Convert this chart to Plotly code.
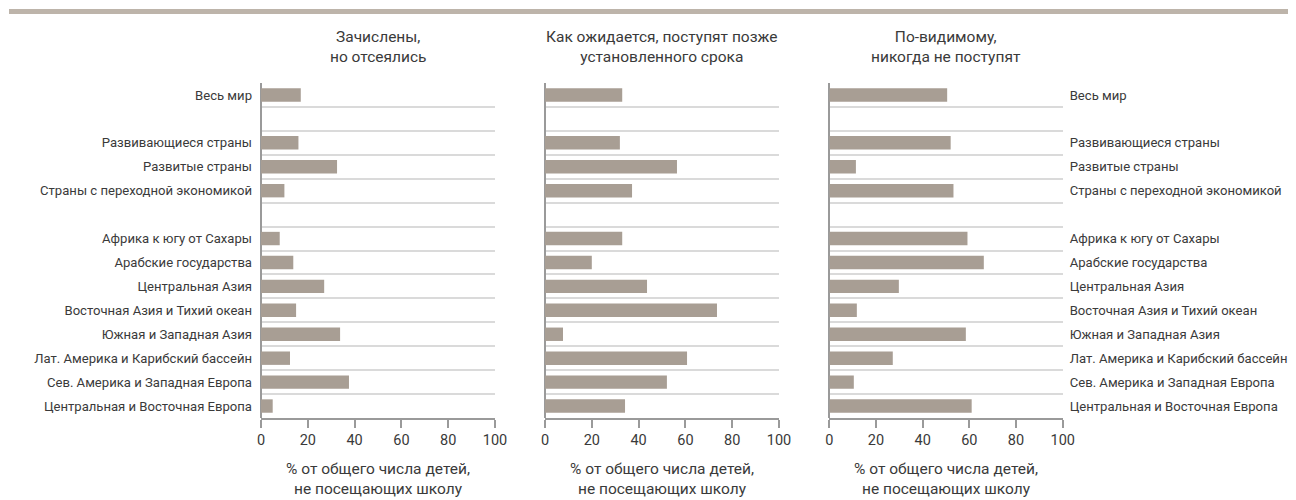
"""
Дети, не посещающие школу: три панели горизонтальных столбиков.
"""

import plotly.graph_objects as go

# Категории (пустые строки - промежутки между группами)
CATEGORIES = [
    "Весь мир",
    " ",
    "Развивающиеся страны",
    "Развитые страны",
    "Страны с переходной экономикой",
    "  ",
    "Африка к югу от Сахары",
    "Арабские государства",
    "Центральная Азия",
    "Восточная Азия и Тихий океан",
    "Южная и Западная Азия",
    "Лат. Америка и Карибский бассейн",
    "Сев. Америка и Западная Европа",
    "Центральная и Восточная Европа",
]

# Зачислены, но отсеялись
DROPPED_OUT = [17, None, 16, 32.5, 10, None, 8, 13.8, 27, 15, 33.8, 12.4, 37.6, 5]
# Как ожидается, поступят позже установленного срока
ENTER_LATE = [33, None, 32, 56.4, 37.2, None, 33, 20, 43.6, 73.5, 7.7, 60.7, 52.1, 34.2]
# По-видимому, никогда не поступят
NEVER_ENTER = [50.5, None, 52, 11.4, 53.2, None, 59.2, 66.2, 29.8, 11.8, 58.5, 27.2, 10.5, 61]

PANEL_TITLES = [
    "Зачислены,<br>но отсеялись",
    "Как ожидается, поступят позже<br>установленного срока",
    "По-видимому,<br>никогда не поступят",
]
X_TICKS = [0, 20, 40, 60, 80, 100]
X_TITLE = "% от общего числа детей,<br>не посещающих школу"

# Страница добавляет отступ 8px, поэтому фигура чуть меньше окна
PAGE_PAD = 8
W, H = 1296 - PAGE_PAD, 500 - PAGE_PAD
FONT = "Roboto, sans-serif"
TEXT = "#3a3a3a"
BAR = "#a89e94"
GRID = "#dadada"
AXIS = "#9a9a9a"

# Положение панелей в пикселях окна
PANEL_X = [(261, 495), (545, 779), (829.3, 1062.7)]
PLOT_TOP, PLOT_BOTTOM = 83, 418


def px_x(v):
    return (v - PAGE_PAD) / W


def px_y(v):
    return 1 - (v - PAGE_PAD) / H


fig = go.Figure()

series = [DROPPED_OUT, ENTER_LATE, NEVER_ENTER]
for i, values in enumerate(series):
    n = i + 1
    suffix = "" if n == 1 else str(n)
    fig.add_trace(go.Bar(
        x=values,
        y=CATEGORIES,
        orientation="h",
        marker=dict(color=BAR, line=dict(width=0)),
        width=0.56,
        xaxis="x" + suffix,
        yaxis="y" + suffix,
        showlegend=False,
        hoverinfo="x+y",
    ))

    x0, x1 = PANEL_X[i]
    fig.update_layout(**{
        "xaxis" + suffix: dict(
            domain=[px_x(x0), px_x(x1)],
            anchor="y" + suffix,
            range=[0, 100],
            tickvals=X_TICKS,
            showgrid=False,
            zeroline=True,
            zerolinecolor=AXIS,
            zerolinewidth=1.5,
            showline=True,
            linecolor=AXIS,
            linewidth=1.5,
            ticks="outside",
            ticklen=8,
            tickcolor=AXIS,
            tickwidth=1.5,
            tickfont=dict(family=FONT, size=14.5, color=TEXT),
            title=dict(text=X_TITLE, font=dict(family=FONT, size=15.5, color=TEXT),
                       standoff=15),
            automargin=False,
            fixedrange=True,
        ),
        "yaxis" + suffix: dict(
            domain=[px_y(PLOT_BOTTOM), px_y(PLOT_TOP)],
            anchor="x" + suffix,
            type="category",
            categoryorder="array",
            categoryarray=CATEGORIES,
            range=[len(CATEGORIES) - 0.5, -0.5],
            tickson="boundaries",
            showgrid=True,
            gridcolor=GRID,
            gridwidth=1.5,
            ticks="",
            showline=False,
            zeroline=False,
            showticklabels=(n != 2),
            side="right" if n == 3 else "left",
            ticklabelstandoff=8 if n == 1 else 6,
            tickfont=dict(family=FONT, size=13.1, color=TEXT),
            automargin=False,
            fixedrange=True,
        ),
    })

    # Заголовок панели
    fig.add_annotation(
        text=PANEL_TITLES[i],
        x=px_x((x0 + x1) / 2), y=px_y(68),
        xref="paper", yref="paper",
        xanchor="center", yanchor="bottom",
        showarrow=False,
        font=dict(family=FONT, size=15.5, color=TEXT),
    )

# Серая полоса сверху
fig.add_shape(type="rect", xref="paper", yref="paper",
              x0=px_x(9), x1=1, y0=px_y(14), y1=px_y(9),
              fillcolor="#bdb4aa", line=dict(width=0), layer="above")

fig.update_layout(
    width=W,
    height=H,
    margin=dict(l=0, r=0, t=0, b=0),
    paper_bgcolor="white",
    plot_bgcolor="white",
    bargap=0.44,
    font=dict(family=FONT, color=TEXT),
)

fig.write_html("out.html")
